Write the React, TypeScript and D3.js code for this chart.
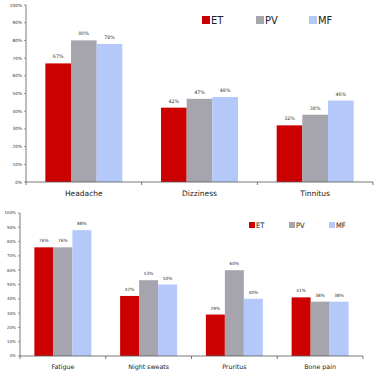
import React from "react";
import * as d3 from "d3";

const series = ["ET", "PV", "MF"];
const colors = ["#cc0000", "#a6a5ae", "#b4c9fa"];

const topCategories = ["Headache", "Dizziness", "Tinnitus"];
const topET = [67, 42, 32];
const topPV = [80, 47, 38];
const topMF = [78, 48, 46];

const bottomCategories = ["Fatigue", "Night sweats", "Pruritus", "Bone pain"];
const bottomET = [76, 42, 29, 41];
const bottomPV = [76, 53, 60, 38];
const bottomMF = [88, 50, 40, 38];

const yTicks = [0, 10, 20, 30, 40, 50, 60, 70, 80, 90, 100];

type ChartProps = {
  categories: string[];
  values: number[][];
  x0: number;
  x1: number;
  yTop: number;
  yBottom: number;
  groupWidth: number;
  tickFont: number;
  valueFont: number;
  catFont: number;
  catOffset: number;
  legendX: number[];
  legendY: number;
  legendSize: number;
  legendFont: number;
};

function Chart(p: ChartProps) {
  const x = d3.scaleBand<string>().domain(p.categories).range([p.x0, p.x1]).padding(0);
  const y = d3.scaleLinear().domain([0, 100]).range([p.yBottom, p.yTop]);
  const inner = d3
    .scaleBand<string>()
    .domain(series)
    .range([(x.bandwidth() - p.groupWidth) / 2, (x.bandwidth() + p.groupWidth) / 2])
    .padding(0);
  const font = "'DejaVu Sans', Verdana, sans-serif";
  return (
    <g>
      {/* y axis */}
      <line x1={p.x0} x2={p.x0} y1={y(100)} y2={y(0)} stroke="#555" strokeWidth={0.8} />
      {yTicks.map((t) => (
        <g key={t}>
          <line x1={p.x0 - 2} x2={p.x0} y1={y(t)} y2={y(t)} stroke="#555" strokeWidth={0.6} />
          <text
            x={p.x0 - 4}
            y={y(t)}
            dy="0.35em"
            textAnchor="end"
            fontSize={p.tickFont}
            fontFamily={font}
            fill="#333"
          >
            {t}%
          </text>
        </g>
      ))}
      {/* bars */}
      {p.categories.map((c, ci) => (
        <g key={c} transform={`translate(${x(c)},0)`}>
          {series.map((s, si) => {
            const v = p.values[si][ci];
            return (
              <g key={s}>
                <rect
                  x={inner(s)}
                  y={y(v)}
                  width={inner.bandwidth()}
                  height={y(0) - y(v)}
                  fill={colors[si]}
                />
                <text
                  x={(inner(s) as number) + inner.bandwidth() / 2}
                  y={y(v) - 5}
                  textAnchor="middle"
                  fontSize={p.valueFont}
                  fontFamily={font}
                  fill="#333"
                >
                  {v}%
                </text>
              </g>
            );
          })}
          <text
            x={x.bandwidth() / 2}
            y={p.yBottom + p.catOffset}
            textAnchor="middle"
            fontSize={p.catFont}
            fontFamily={font}
            fill="#222"
          >
            {c}
          </text>
        </g>
      ))}
      {/* x axis */}
      <line x1={p.x0} x2={p.x1} y1={y(0)} y2={y(0)} stroke="#555" strokeWidth={0.8} />
      {p.categories.map((c) => (
        <line
          key={c}
          x1={(x(c) as number) + x.bandwidth()}
          x2={(x(c) as number) + x.bandwidth()}
          y1={y(0)}
          y2={y(0) + 3}
          stroke="#555"
          strokeWidth={0.8}
        />
      ))}
      <line x1={p.x0} x2={p.x0} y1={y(0)} y2={y(0) + 3} stroke="#555" strokeWidth={0.8} />
      {/* legend */}
      {series.map((s, si) => (
        <g key={s}>
          <rect
            x={p.legendX[si]}
            y={p.legendY}
            width={p.legendSize}
            height={p.legendSize}
            fill={colors[si]}
          />
          <text
            x={p.legendX[si] + p.legendSize + 1}
            y={p.legendY + p.legendSize / 2}
            dy="0.36em"
            fontSize={p.legendFont}
            fontFamily="'DejaVu Sans Condensed', 'DejaVu Sans', sans-serif"
            fill="#222"
          >
            {s}
          </text>
        </g>
      ))}
    </g>
  );
}

export default function App() {
  return (
    <svg
      width={377}
      height={376}
      style={{ position: "absolute", left: 0, top: 0, background: "#fff" }}
    >
      <rect width={377} height={376} fill="#fff" />
      <Chart
        categories={topCategories}
        values={[topET, topPV, topMF]}
        x0={26}
        x1={373}
        yTop={5}
        yBottom={182}
        groupWidth={77}
        tickFont={4.3}
        valueFont={4.8}
        catFont={7.5}
        catOffset={14}
        legendX={[202, 256, 309]}
        legendY={16}
        legendSize={8}
        legendFont={11}
      />
      <Chart
        categories={bottomCategories}
        values={[bottomET, bottomPV, bottomMF]}
        x0={20}
        x1={363}
        yTop={213}
        yBottom={356}
        groupWidth={57}
        tickFont={4}
        valueFont={4.3}
        catFont={6.3}
        catOffset={13}
        legendX={[249, 289, 329]}
        legendY={222}
        legendSize={6}
        legendFont={7.5}
      />
    </svg>
  );
}
